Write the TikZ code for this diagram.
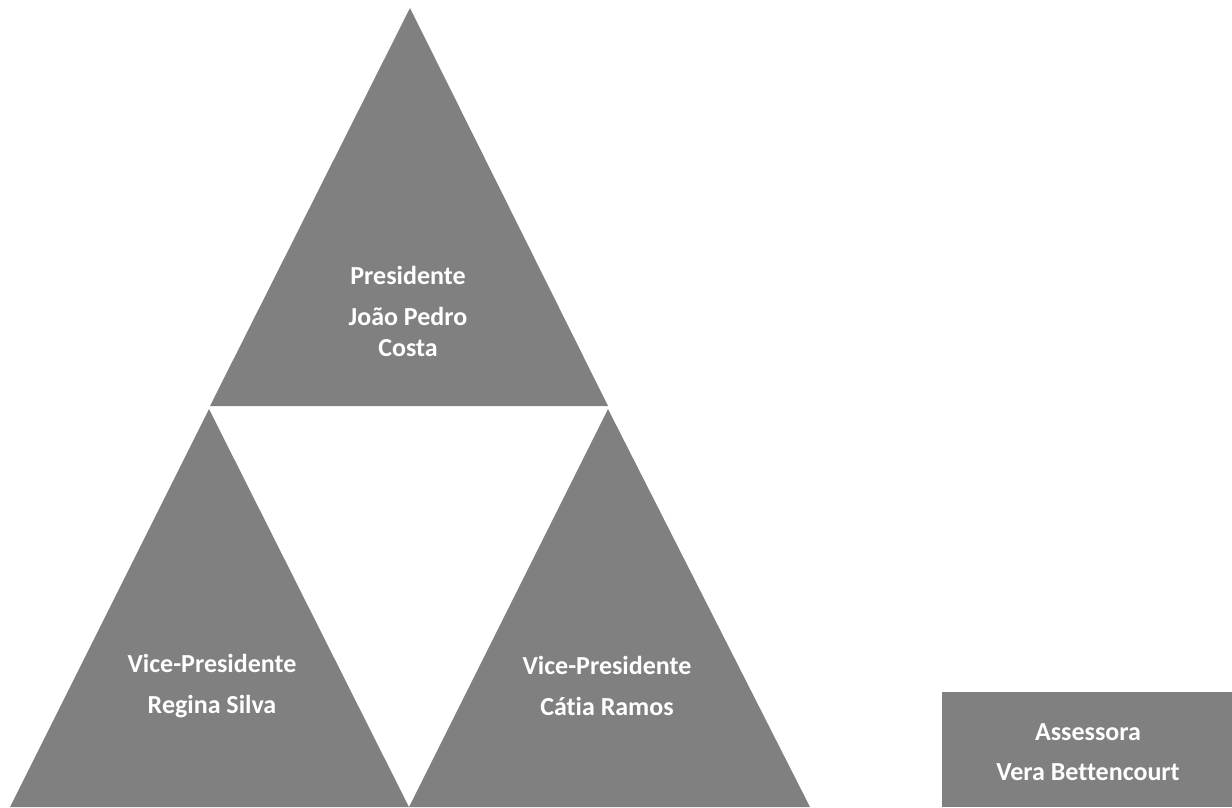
\documentclass[tikz,border=0pt]{standalone}
\usepackage{fontspec}
\setmainfont{Carlito}[Ligatures=NoCommon]
\begin{document}
\begin{tikzpicture}[x=1pt,y=-1pt]
	\tikzstyle{tri}=[draw=none,fill=black!50];
	\tikzstyle{label}=[white,align=center,font=\fontsize{26}{31}\selectfont\bfseries,inner sep=0pt];

	\useasboundingbox (0,0) rectangle (1232,807);
	\fill[tri] (410,8)   -- (210,406) -- (608,406) -- cycle;
	\fill[tri] (209,409) -- (10,807)  -- (409,807) -- cycle;
	\fill[tri] (608,409) -- (409,807) -- (810,807) -- cycle;
	\fill[tri] (942,692) rectangle (1232,807);
	\node[label] (pres) at (408,311) {Presidente\\[10pt]João Pedro\\Costa};
	\node[label] (vp1)  at (212,686) {Vice-Presidente\\[10pt]Regina Silva};
	\node[label] (vp2)  at (607,686) {Vice-Presidente\\[10pt]Cátia Ramos};
	\node[label] (ass)  at (1088,752) {Assessora\\[9pt]Vera Bettencourt};
\end{tikzpicture}
\end{document}
